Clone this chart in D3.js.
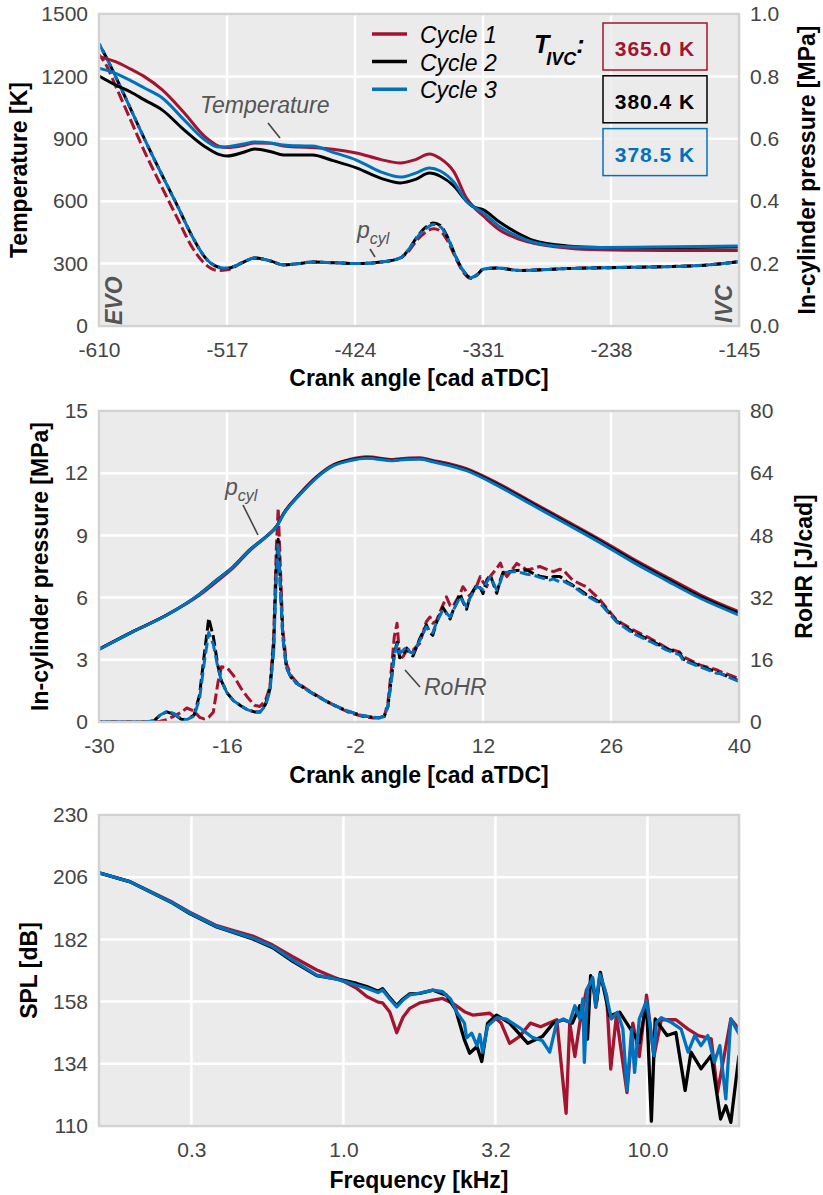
<html>
<head>
  <meta charset='utf-8' />
  <style>
    body { margin: 0; padding: 0; background: white; }
    text { font-family: 'Liberation Sans', Arial, Helvetica, sans-serif; }
    .tick text { fill: #444; font-size: 21px; }
    .title { font-size: 23px; font-weight: bold; fill: black; }
    .note { font-size: 23px; font-style: italic; fill: #555; }
  </style>
</head>

<body>
  <svg id='fig' width='823' height='1195'></svg>
</body>

<script src="https://d3js.org/d3.v7.min.js"></script>

<script>
///////////////////
/// Data
///////////////////

  // top panel: gas exchange, temperature [K] and in-cylinder pressure [MPa]
  crankTop = [-610, -598, -587, -577, -564, -548, -533, -523, -517, -505, -497, -485, -476, -465, -455, -440, -423,
              -405, -391, -380, -370, -362, -352, -343, -338, -331, -319, -306, -295, -270, -246, -220, -190, -145]
  tempCyc1 = [1295, 1271, 1235, 1199, 1135, 1024, 910, 865, 858, 868, 880, 878, 865, 860, 858, 850, 832,
              800, 784, 800, 827, 805, 740, 615, 573, 530, 462, 420, 399, 375, 366, 364, 363, 363]
  tempCyc2 = [1202, 1159, 1125, 1087, 1038, 942, 862, 825, 817, 835, 851, 838, 822, 822, 822, 795, 760,
              710, 688, 705, 735, 720, 672, 600, 573, 560, 500, 447, 413, 385, 378, 377, 378, 380]
  tempCyc3 = [1239, 1215, 1180, 1144, 1096, 990, 894, 860, 862, 875, 885, 880, 870, 866, 865, 835, 798,
              740, 716, 735, 760, 745, 690, 600, 573, 545, 478, 432, 404, 381, 378, 379, 381, 385]

  crankTopP = [-610, -604, -598, -589, -577, -566, -553, -542, -532, -524, -517, -505, -497, -485, -476, -465, -455,
               -440, -423, -405, -391, -385, -379, -373, -367, -362, -357, -350, -345, -340, -335, -331, -321, -304,
               -270, -240, -200, -170, -145]
  presLowCyc1 = [0.87, 0.83, 0.77, 0.68, 0.56, 0.46, 0.345, 0.25, 0.195, 0.178, 0.18, 0.205, 0.218, 0.208, 0.196, 0.2, 0.205,
                 0.203, 0.2, 0.205, 0.218, 0.24, 0.275, 0.3, 0.312, 0.305, 0.275, 0.21, 0.17, 0.152, 0.165, 0.182, 0.186, 0.178,
                 0.184, 0.187, 0.19, 0.195, 0.206]
  presLowCyc2 = [0.905, 0.855, 0.8, 0.715, 0.6, 0.5, 0.385, 0.285, 0.215, 0.19, 0.185, 0.205, 0.218, 0.208, 0.196, 0.2, 0.205,
                 0.203, 0.2, 0.205, 0.218, 0.245, 0.285, 0.315, 0.33, 0.322, 0.287, 0.215, 0.175, 0.155, 0.165, 0.182, 0.186, 0.178,
                 0.184, 0.187, 0.19, 0.195, 0.206]
  presLowCyc3 = [0.905, 0.855, 0.8, 0.715, 0.6, 0.5, 0.385, 0.285, 0.215, 0.19, 0.185, 0.205, 0.218, 0.208, 0.196, 0.2, 0.205,
                 0.203, 0.2, 0.205, 0.218, 0.245, 0.283, 0.31, 0.325, 0.318, 0.285, 0.215, 0.175, 0.155, 0.165, 0.182, 0.186, 0.178,
                 0.184, 0.187, 0.19, 0.195, 0.206]

  tivcLabels = ['365.0 K', '380.4 K', '378.5 K']
  cycleNames = ['Cycle 1', 'Cycle 2', 'Cycle 3']

  // middle panel: combustion, pressure [MPa] and RoHR [J/cad]
  crankMid = [-30, -26.3, -22.6, -19, -17.1, -15.3, -13.5, -11.7, -10.6, -9.8, -8, -6.2, -4.4, -2.6, -0.7, 2.2, 2.9,
              5.1, 6.5, 10.2, 13.9, 17.5, 21.2, 24.8, 28.4, 32.1, 35.7, 40]
  pcylCyc1 = [3.51, 4.36, 5.16, 6.12, 6.78, 7.44, 8.27, 8.94, 9.42, 10.07, 11.03, 11.83, 12.4, 12.66, 12.79, 12.66, 12.7,
              12.74, 12.62, 12.22, 11.45, 10.57, 9.68, 8.8, 7.87, 6.99, 6.15, 5.32]
  pcylCyc2 = [3.51, 4.36, 5.16, 6.17, 6.86, 7.5, 8.31, 8.95, 9.42, 10.05, 11.0, 11.8, 12.37, 12.63, 12.75, 12.62, 12.66,
              12.7, 12.58, 12.16, 11.38, 10.5, 9.6, 8.72, 7.79, 6.9, 6.06, 5.24]
  pcylCyc3 = [3.5, 4.35, 5.15, 6.16, 6.85, 7.49, 8.3, 8.94, 9.41, 10.03, 10.98, 11.78, 12.35, 12.6, 12.72, 12.6, 12.64,
              12.68, 12.55, 12.12, 11.33, 10.44, 9.54, 8.65, 7.71, 6.82, 5.98, 5.16]

  crankRohr = [-30, -25, -24, -23.3, -22.6, -21.8, -21, -20.4, -19.6, -19,
               -18.5, -18, -17.5, -17, -16.6, -16, -15.3, -14.5, -13.8, -13,
               -12.4, -11.8, -11.3, -10.9, -10.6, -10.4, -10.2, -9.9, -9.5, -9,
               -8.4, -7.5, -6.6, -5.5, -4.7, -3.8, -2.9, -2, -1.1, 0,
               0.7, 1.2, 1.6, 2.0, 2.3, 2.6, 2.9, 3.3, 3.65, 4.0,
               4.35, 5.1, 5.8, 6.2, 6.5, 6.9, 7.6, 8.0, 8.4, 8.7,
               9.5, 9.8, 10.2, 10.6, 11.3, 11.7, 12.0, 12.4, 12.8, 13.5,
               13.9, 14.2, 14.6, 15.7, 16.8, 17.5, 18.2, 19.3, 19.7, 20.4,
               20.8, 21.2, 21.8, 22.9, 23.3, 24.8, 26.6, 28.4, 30.3, 32.1,
               33.5, 33.9, 35.7, 37.6, 37.9, 40]
  rohrCyc1 = [0, 0, 0, 0.2, 0.6, 1.5, 2.5, 3.6, 2.8, 1.2,
              0.8, 1.2, 2.5, 10, 14.2, 14, 12, 8.8, 6.5, 4.3,
              4.0, 5.5, 9, 22, 45, 55, 42, 24, 15, 12,
              10.3, 8.8, 7.4, 5.9, 4.8, 3.7, 2.7, 2, 1.4, 1.0,
              1.0, 1.4, 5, 14, 22, 25.4, 16, 17, 18.5, 18.5,
              18.5, 20.3, 25.8, 27, 25.4, 26, 30, 32.2, 30, 29.7,
              33, 34.8, 33.5, 32.2, 35, 37.4, 36, 34.8, 37.5, 39.5,
              40.9, 39, 37.4, 40.8, 39.1, 39.5, 40, 39, 38.7, 39.3,
              39.1, 38, 36.5, 35.2, 34.8, 31.4, 26.2, 23.7, 21.5, 19,
              18, 16.8, 14.7, 13.4, 13.0, 11.2]
  rohrCyc2 = [0, 0, 0.3, 1.8, 2.6, 2.0, 0.7, 0.6, 1.8, 7,
              17, 26.7, 22, 14.5, 10.5, 7.5, 5.5, 4.2, 3.2, 2.6,
              2.6, 4.5, 8.5, 19, 40, 47, 37, 22, 14, 11.5,
              10, 8.6, 7.3, 5.8, 4.8, 3.8, 2.9, 2.2, 1.6, 1.2,
              1.1, 1.5, 4, 11.5, 17.5, 20.5, 16.5, 17.5, 19, 17.5,
              17, 21.5, 25, 23, 22.3, 25.5, 29.5, 28, 26.5, 28.5,
              33, 31, 29, 32.5, 35.2, 34.5, 33, 36.5, 37.8, 33.1,
              36.5, 38.5, 38.6, 39, 39.1, 38.2, 37.5, 37, 37.4, 37.4,
              36.8, 36, 35.2, 33.5, 32.8, 30.8, 26, 23.2, 21, 18.8,
              17.7, 16.2, 14.5, 12.8, 12.5, 10.6]
  rohrCyc3 = [0, 0, 0.3, 1.8, 2.7, 2.2, 0.8, 0.6, 1.5, 6,
              15, 23, 20, 14, 10.5, 7.5, 5.5, 4.2, 3.2, 2.6,
              2.5, 4.2, 8, 18, 38, 46, 36, 22, 14, 11.5,
              10, 8.6, 7.3, 5.8, 4.8, 3.8, 2.9, 2.2, 1.6, 1.2,
              1.1, 1.5, 4, 11, 17, 20, 17.7, 18.5, 19.4, 18,
              17.7, 21, 24.5, 23.5, 22.9, 25.5, 28.8, 28, 27, 28.5,
              32.2, 31, 29.7, 32, 34.8, 34.5, 34, 36, 37.4, 34,
              36, 38.3, 38.5, 38.7, 38, 37.8, 37.2, 36.5, 36.8, 36,
              36.2, 35.7, 35, 33.1, 32.5, 30.5, 25.8, 22.8, 20.7, 18.5,
              17.3, 15.9, 14.2, 12.5, 12.6, 10.4]

  // bottom panel: sound pressure level [dB] over frequency [kHz]
  freqCyc1 = [0.157, 0.198, 0.274, 0.312, 0.383, 0.432, 0.503, 0.585, 0.681, 0.817,
              0.922, 0.994, 1.106, 1.193, 1.30, 1.346, 1.42, 1.497, 1.57, 1.652,
              1.782, 1.97, 2.12, 2.29, 2.5, 2.66, 3.03, 3.3, 3.52, 3.79,
              4.12, 4.45, 5.03, 5.4, 5.55, 5.77, 5.99, 6.3, 6.6, 6.76,
              6.97, 7.34, 7.57, 7.9, 8.56, 8.95, 9.4, 9.93, 10.5, 11.1,
              12.4, 13.6, 14.7, 16.2, 17.0, 18.8, 20]
  splCyc1 = [207.7, 204.3, 196.3, 192.5, 187.3, 185.5, 183.3, 179.8, 175.3, 170.2,
             167.6, 166, 163.1, 160, 157.8, 157.5, 154, 146, 152, 155.4,
             157.5, 158.6, 159.2, 157.3, 154.1, 152.8, 153.5, 149.7, 141.9, 144.5,
             149.7, 148.3, 151, 114.9, 149.7, 136.8, 149.7, 162.5, 166.7, 155.8,
             168, 160.2, 132, 152.5, 122.9, 149.7, 136.8, 160.5, 136.8, 151,
             151, 147.4, 144.9, 143.6, 123, 151.3, 147.4]
  freqCyc2 = [0.157, 0.198, 0.274, 0.312, 0.383, 0.432, 0.503, 0.585, 0.681, 0.817,
              0.922, 0.994, 1.106, 1.193, 1.30, 1.346, 1.42, 1.497, 1.57, 1.652,
              1.782, 1.97, 2.18, 2.34, 2.5, 2.6, 2.75, 2.85, 2.98, 3.19,
              3.52, 4.04, 4.51, 4.9, 5.29, 5.66, 5.99, 6.35, 6.5, 6.8,
              7.0, 7.5, 8.1, 8.8, 9.4, 9.93, 10.3, 10.6, 11.6, 12.4,
              13.3, 13.9, 15.0, 16.2, 17.4, 18.1, 18.8, 20]
  splCyc2 = [207.7, 204.3, 196, 192, 186.8, 184.8, 182.2, 178.8, 173.5, 168,
             167, 166.3, 165, 163.8, 162, 163, 159.5, 156.5, 159, 161,
             161.2, 162.4, 160.5, 154.8, 143.2, 138.1, 140.7, 134.9, 149.7, 152.8,
             149.7, 141.9, 144.5, 149.7, 151, 149.7, 156.4, 143.5, 168, 157.7,
             169.3, 152.5, 153.9, 147.4, 142.2, 157.7, 111.9, 151.3, 144.9, 146.1,
             123.7, 138.5, 132.1, 137.2, 112.7, 117.8, 111.4, 137.2]
  freqCyc3 = [0.157, 0.198, 0.274, 0.312, 0.383, 0.432, 0.503, 0.585, 0.681, 0.817,
              0.922, 0.994, 1.106, 1.193, 1.30, 1.346, 1.42, 1.497, 1.57, 1.652,
              1.782, 1.97, 2.12, 2.25, 2.37, 2.5, 2.54, 2.64, 2.75, 2.81,
              2.87, 2.98, 3.19, 3.44, 3.79, 4.18, 4.51, 4.77, 5.03, 5.29,
              5.55, 5.77, 5.99, 6.13, 6.2, 6.35, 6.6, 6.76, 6.97, 7.24,
              7.61, 7.97, 8.3, 8.56, 8.87, 9.07, 9.4, 9.93, 10.5, 10.7,
              11.1, 11.97, 12.9, 13.6, 14.3, 15.0, 15.8, 16.6, 17.3, 18.1,
              18.8, 20]
  splCyc3 = [207.7, 204.3, 196.1, 192.2, 187, 185, 182.5, 179.2, 174, 168.2,
             167, 166, 164.3, 163.2, 161.5, 162.5, 159, 156, 158.6, 160.6,
             161.3, 162.4, 161.8, 159, 153.5, 149.7, 144, 145.8, 141, 145.3,
             138.5, 148.6, 151.8, 151.2, 148, 144.2, 142.9, 138.5, 150, 151.3,
             150, 156.4, 151.3, 159, 134.6, 162.8, 167.3, 156.4, 168.6, 162.8,
             151.3, 153.9, 147.4, 123.7, 147.4, 130.7, 151.3, 158.3, 137.2, 150,
             151.8, 150, 147.4, 138.5, 144.9, 141, 144.9, 134.6, 141, 120.5,
             151.3, 145.5]

  // tick labels
  crankTopTicks = [-610, -517, -424, -331, -238, -145]
  tempTicks = [0, 300, 600, 900, 1200, 1500]
  presLowTicks = [0, 0.2, 0.4, 0.6, 0.8, 1.0]
  crankMidTicks = [-30, -16, -2, 12, 26, 40]
  pcylTicks = [0, 3, 6, 9, 12, 15]
  rohrTicks = [0, 16, 32, 48, 64, 80]
  freqTicks = [0.3162, 1.0, 3.162, 10.0]
  splTicks = [110, 134, 158, 182, 206, 230]


///////////////////
/// Setup
///////////////////

  colors = ['#A2142F', '#000000', '#0072BD']
  X0 = 99
  X1 = 739
  svg = d3.select('#fig')

  function makePanel(top, bot, x, xTicks, xFmt, yL, yLTicks, yLFmt, yR, yRTicks, yRFmt) {
    g = svg.append('g')
    cid = 'clip_' + top

    svg.append('clipPath')
      .attr('id', cid)
      .append('rect')
      .attr('x', X0).attr('y', top)
      .attr('width', X1 - X0).attr('height', bot - top)

    g.append('rect')
      .attr('x', X0).attr('y', top)
      .attr('width', X1 - X0).attr('height', bot - top)
      .style('fill', '#ebebeb')

    // grid
    g.append('g')
      .selectAll('line')
      .data(xTicks)
      .enter().append('line')
      .attr('x1', d => x(d)).attr('x2', d => x(d))
      .attr('y1', top).attr('y2', bot)
      .style('stroke', 'white').style('stroke-width', 2.5)

    g.append('g')
      .selectAll('line')
      .data(yLTicks)
      .enter().append('line')
      .attr('x1', X0).attr('x2', X1)
      .attr('y1', d => yL(d)).attr('y2', d => yL(d))
      .style('stroke', 'white').style('stroke-width', 2.5)

    // tick labels
    g.append('g')
      .attr('transform', `translate(0, ${bot})`)
      .call(d3.axisBottom(x).tickValues(xTicks).tickFormat(xFmt).tickSize(0).tickPadding(16))
      .call(a => a.select('.domain').remove())

    g.append('g')
      .attr('transform', `translate(${X0}, 0)`)
      .call(d3.axisLeft(yL).tickValues(yLTicks).tickFormat(yLFmt).tickSize(0).tickPadding(11))
      .call(a => a.select('.domain').remove())

    if (yR) {
      g.append('g')
        .attr('transform', `translate(${X1}, 0)`)
        .call(d3.axisRight(yR).tickValues(yRTicks).tickFormat(yRFmt).tickSize(0).tickPadding(11))
        .call(a => a.select('.domain').remove())
    }

    data = g.append('g').attr('clip-path', `url(#${cid})`)

    g.append('rect')
      .attr('x', X0).attr('y', top)
      .attr('width', X1 - X0).attr('height', bot - top)
      .style('fill', 'none')
      .style('stroke', '#d2d2d2')
      .style('stroke-width', 2.5)

    return { g: g, data: data }
  }

  function drawSeries(layer, xs, ys, x, y, color, dashed, offset, width, smooth) {
    line = d3.line()
      .x(d => x(d[0]))
      .y(d => y(d[1]))
      .curve(smooth ? d3.curveMonotoneX : d3.curveLinear)

    path = layer.append('path')
      .datum(d3.zip(xs, ys))
      .attr('fill', 'none')
      .attr('stroke', color)
      .attr('stroke-width', width || 3)
      .attr('stroke-linejoin', 'round')
      .attr('d', line)

    if (dashed) {
      path.attr('stroke-dasharray', '11,4').attr('stroke-dashoffset', offset)
    }
  }

  function yTitle(xBase, yMid, label) {
    svg.append('text')
      .attr('class', 'title')
      .attr('text-anchor', 'middle')
      .attr('transform', `translate(${xBase}, ${yMid}) rotate(-90)`)
      .text(label)
  }

  function xTitle(yBase, label) {
    svg.append('text')
      .attr('class', 'title')
      .attr('text-anchor', 'middle')
      .attr('x', (X0 + X1) / 2)
      .attr('y', yBase)
      .text(label)
  }

  function leader(g, x1, y1, x2, y2) {
    g.append('line')
      .attr('x1', x1).attr('y1', y1).attr('x2', x2).attr('y2', y2)
      .style('stroke', '#444').style('stroke-width', 1.6)
  }


///////////////////
/// Top panel
///////////////////

  xTop = d3.scaleLinear().domain([-610, -145]).range([X0, X1])
  yTemp = d3.scaleLinear().domain([0, 1500]).range([326, 14])
  yPresLow = d3.scaleLinear().domain([0, 1]).range([326, 14])

  top = makePanel(14, 326, xTop, crankTopTicks, d => d, yTemp, tempTicks, d => d,
                  yPresLow, presLowTicks, d3.format('.1f'))

  presLow = [presLowCyc1, presLowCyc2, presLowCyc3]
  temps = [tempCyc1, tempCyc2, tempCyc3]
  dashOff = [3, 8, 0]

  presLow.forEach((s, i) => drawSeries(top.data, crankTopP, s, xTop, yPresLow, colors[i], true, dashOff[i], 3, true))
  temps.forEach((s, i) => drawSeries(top.data, crankTop, s, xTop, yTemp, colors[i], false, 0, 3, true))

  // annotations
  top.g.append('text').attr('class', 'note').attr('x', 200).attr('y', 113).text('Temperature')
  leader(top.g, 268, 123, 280, 138)

  pLab = top.g.append('text').attr('class', 'note').attr('x', 357).attr('y', 238)
  pLab.append('tspan').text('p')
  pLab.append('tspan').attr('dy', 6).style('font-size', '16px').text('cyl')
  leader(top.g, 370, 249, 375, 257)

  top.g.append('text').attr('class', 'note')
    .style('font-weight', 'bold')
    .attr('transform', 'translate(122, 325) rotate(-90)')
    .text('EVO')
  top.g.append('text').attr('class', 'note')
    .style('font-weight', 'bold')
    .attr('transform', 'translate(732, 323) rotate(-90)')
    .text('IVC')

  // legend
  legend = top.g.append('g')
  cycleNames.forEach((name, i) => {
    legend.append('line')
      .attr('x1', 372).attr('x2', 407)
      .attr('y1', 34 + i * 27.6).attr('y2', 34 + i * 27.6)
      .style('stroke', colors[i]).style('stroke-width', 3.5)
    legend.append('text')
      .attr('x', 420).attr('y', 43 + i * 27.6)
      .style('font-size', '23px').style('font-style', 'italic').style('fill', 'black')
      .text(name)
  })

  tivc = top.g.append('text')
    .attr('x', 534).attr('y', 53)
    .style('font-weight', 'bold').style('font-style', 'italic').style('fill', 'black')
  tivc.append('tspan').style('font-size', '25px').text('T')
  tivc.append('tspan').attr('dx', -3).attr('dy', 12).style('font-size', '18px').text('IVC')
  tivc.append('tspan').attr('dy', -12).style('font-size', '25px').text(':')

  tivcLabels.forEach((lab, i) => {
    boxY = 23 + i * 52.8
    top.g.append('rect')
      .attr('x', 603).attr('y', boxY).attr('width', 104).attr('height', 47)
      .style('fill', '#ebebeb').style('fill-opacity', 0.8)
      .style('stroke', colors[i]).style('stroke-width', 1.5)
    top.g.append('text')
      .attr('x', 655).attr('y', boxY + 33)
      .attr('text-anchor', 'middle')
      .style('font-size', '21px').style('font-weight', 'bold').style('letter-spacing', '1px')
      .style('fill', colors[i])
      .text(lab)
  })

  yTitle(27, 170, 'Temperature [K]')
  yTitle(815, 170, 'In-cylinder pressure [MPa]')
  xTitle(386, 'Crank angle [cad aTDC]')


///////////////////
/// Middle panel
///////////////////

  xMid = d3.scaleLinear().domain([-30, 40]).range([X0, X1])
  yPcyl = d3.scaleLinear().domain([0, 15]).range([722, 411])
  yRohr = d3.scaleLinear().domain([0, 80]).range([722, 411])

  mid = makePanel(411, 722, xMid, crankMidTicks, d => d, yPcyl, pcylTicks, d => d,
                  yRohr, rohrTicks, d => d)

  pcyls = [pcylCyc1, pcylCyc2, pcylCyc3]
  rohrs = [rohrCyc1, rohrCyc2, rohrCyc3]

  rohrs.forEach((s, i) => drawSeries(mid.data, crankRohr, s, xMid, yRohr, colors[i], true, dashOff[i], 3, false))
  pcyls.forEach((s, i) => drawSeries(mid.data, crankMid, s, xMid, yPcyl, colors[i], false, 0, 3, true))

  pLab2 = mid.g.append('text').attr('class', 'note').attr('x', 225).attr('y', 495)
  pLab2.append('tspan').text('p')
  pLab2.append('tspan').attr('dy', 6).style('font-size', '16px').text('cyl')
  leader(mid.g, 243, 505, 258, 535)

  mid.g.append('text').attr('class', 'note').attr('x', 424).attr('y', 695).text('RoHR')
  leader(mid.g, 405, 670, 420, 687)

  yTitle(48, 566.5, 'In-cylinder pressure [MPa]')
  yTitle(812, 566.5, 'RoHR [J/cad]')
  xTitle(783, 'Crank angle [cad aTDC]')


///////////////////
/// Bottom panel
///////////////////

  xFreq = d3.scaleLog().domain([0.157, 20]).range([X0, X1])
  ySpl = d3.scaleLinear().domain([110, 230]).range([1126, 815])

  bot = makePanel(815, 1126, xFreq, freqTicks, d3.format('.1f'), ySpl, splTicks, d => d)

  freqs = [freqCyc1, freqCyc2, freqCyc3]
  spls = [splCyc1, splCyc2, splCyc3]
  spls.forEach((s, i) => drawSeries(bot.data, freqs[i], s, xFreq, ySpl, colors[i], false, 0, 3.3, false))

  yTitle(37, 970.5, 'SPL [dB]')
  xTitle(1188, 'Frequency [kHz]')

</script>
</html>
